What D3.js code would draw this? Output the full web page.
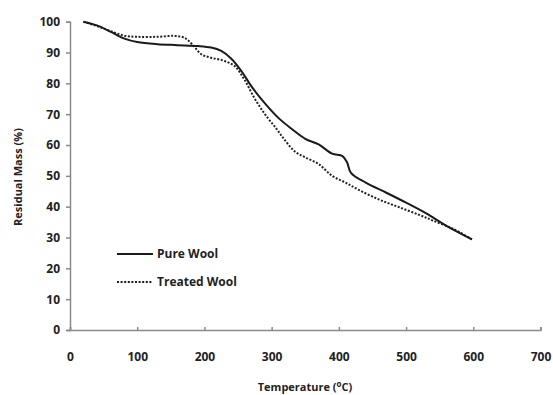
<!DOCTYPE html>
<html>
<head>
<meta charset="utf-8">
<script src="https://cdn.jsdelivr.net/npm/d3@7"></script>
<style>
  body { margin: 0; background: #fff; }
  text { font-family: "Open Sans", "Liberation Sans", sans-serif; font-weight: bold; fill: #222; }
</style>
</head>
<body>
<div id="container"></div>
<script>
// curve readings (temperature in C, residual mass in %)
var pureTemp = [20, 40, 60, 80, 100, 130, 160, 190, 210, 225, 240, 255, 270, 290, 310, 330, 350, 370, 390, 405, 412, 418, 440, 470, 500, 530, 560, 598];
var pureMass = [100, 98.8, 96.8, 94.6, 93.4, 92.7, 92.4, 92.1, 91.6, 90.5, 88, 84, 79, 73.5, 68.8, 65.2, 62, 60.2, 57.2, 56.5, 54.5, 51, 47.8, 44.6, 41.3, 37.8, 33.8, 29.4];
var treatedTemp = [20, 40, 60, 80, 100, 130, 155, 170, 183, 195, 210, 228, 245, 260, 275, 290, 307, 320, 335, 350, 370, 390, 410, 430, 460, 490, 520, 540, 570, 598];
var treatedMass = [100, 98.6, 97, 95.5, 95.1, 95.1, 95.4, 94.8, 92.4, 89.5, 88.3, 87.4, 85.6, 81, 75, 70, 65.3, 61.5, 57.8, 56, 53.8, 50, 47.8, 45.4, 42.3, 39.8, 37.3, 35.5, 32.8, 29.4];
var xTicks = [0, 100, 200, 300, 400, 500, 600, 700];
var yTicks = [0, 10, 20, 30, 40, 50, 60, 70, 80, 90, 100];
var seriesNames = ['Pure Wool', 'Treated Wool'];

var width = 553,
    height = 395;

var svg = d3.select('div#container')
    .append('svg')
    .attr('width', width)
    .attr('height', height);

var x = d3.scaleLinear().domain([0, 700]).range([70, 540.5]),
    y = d3.scaleLinear().domain([0, 100]).range([330, 21.7]);

// axes, excel style grey
var xAxis = svg.append('g')
    .attr('transform', 'translate(0,' + y(0) + ')')
    .call(d3.axisBottom(x).tickValues(xTicks).tickSize(-3).tickSizeOuter(-3).tickPadding(22));
var yAxis = svg.append('g')
    .attr('transform', 'translate(' + x(0) + ',0)')
    .call(d3.axisLeft(y).tickValues(yTicks).tickSize(4).tickSizeOuter(4).tickPadding(6));

[xAxis, yAxis].forEach(function(a) {
    a.selectAll('path, line').attr('stroke', '#8a8a8a').attr('stroke-width', 1.5);
    a.selectAll('text').style('font-size', '12px').attr('fill', '#222');
});

var line = d3.line()
    .x(function(d) { return x(d[0]); })
    .y(function(d) { return y(d[1]); })
    .curve(d3.curveCatmullRom);

var pure = d3.zip(pureTemp, pureMass),
    treated = d3.zip(treatedTemp, treatedMass);

svg.append('path')
    .datum(treated)
    .attr('d', line)
    .attr('fill', 'none')
    .attr('stroke', '#222')
    .attr('stroke-width', 2)
    .attr('stroke-dasharray', '2,1.6');

svg.append('path')
    .datum(pure)
    .attr('d', line)
    .attr('fill', 'none')
    .attr('stroke', '#1a1a1a')
    .attr('stroke-width', 2);

// legend
var legend = svg.append('g');
seriesNames.forEach(function(name, i) {
    var ly = 254 + i * 28;
    legend.append('line')
        .attr('x1', 117).attr('x2', 153)
        .attr('y1', ly).attr('y2', ly)
        .attr('stroke', '#1a1a1a')
        .attr('stroke-width', 2)
        .attr('stroke-dasharray', i ? '2,1.6' : null);
    legend.append('text')
        .attr('x', 157).attr('y', ly + 4)
        .style('font-size', '12px')
        .text(name);
});

// axis titles
svg.append('text')
    .attr('transform', 'translate(22,177) rotate(-90)')
    .attr('text-anchor', 'middle')
    .style('font-size', '11px')
    .text('Residual Mass (%)');

var xt = svg.append('text')
    .attr('x', 305).attr('y', 391)
    .attr('text-anchor', 'middle')
    .style('font-size', '11px');
xt.append('tspan').text('Temperature (');
xt.append('tspan').attr('dy', -4).style('font-size', '8px').text('o');
xt.append('tspan').attr('dy', 4).text('C)');
</script>
</body>
</html>
